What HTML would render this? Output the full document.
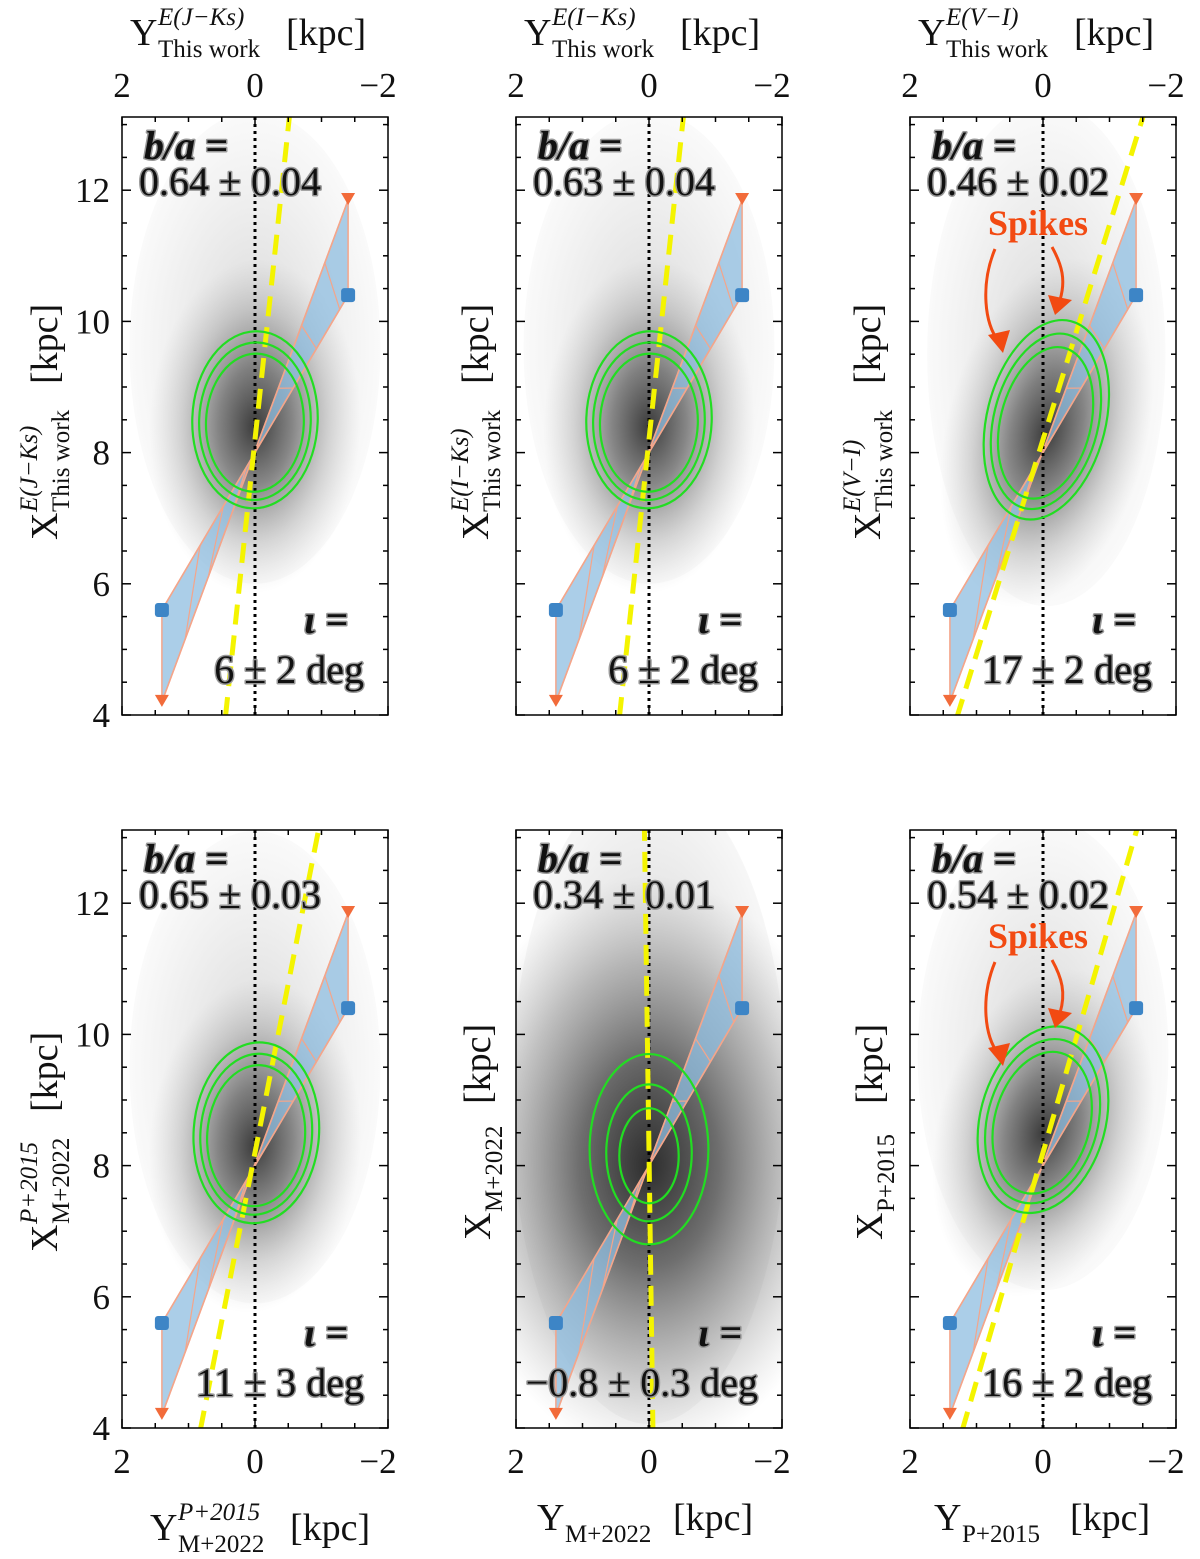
<!DOCTYPE html>
<html><head><meta charset="utf-8"><style>
html,body{margin:0;padding:0;background:#fff}
svg{display:block}
text{font-family:"Liberation Serif","DejaVu Serif",serif;fill:#111}
.tk{font-size:35px}
.ann{font-size:40px;stroke:#999;stroke-width:3px;paint-order:stroke;stroke-linejoin:round}
</style></head><body>
<svg id="fig" width="1200" height="1559" viewBox="0 0 1200 1559" xmlns="http://www.w3.org/2000/svg">
<defs id="defs"></defs>
</svg>
<script>
// ---- data ----
const panelIds = ["jks","iks","vi","mp","m22","p15"];
const ratioText = ["0.64 \u00b1 0.04","0.63 \u00b1 0.04","0.46 \u00b1 0.02","0.65 \u00b1 0.03","0.34 \u00b1 0.01","0.54 \u00b1 0.02"];
const iotaText = ["6 \u00b1 2 deg","6 \u00b1 2 deg","17 \u00b1 2 deg","11 \u00b1 3 deg","\u22120.8 \u00b1 0.3 deg","16 \u00b1 2 deg"];
const iotaDeg = [6,6,17,11,-0.8,16];
const cloudY = [0.0,0.0,-0.05,0.0,0.0,0.0];
const cloudX = [8.4,8.4,8.3,8.3,8.0,8.5];
const cloudSY = [1.0,1.0,0.95,1.0,1.9,1.0];
const cloudSX = [1.5,1.5,1.6,1.5,2.6,1.5];
const contY = [0.0,0.0,-0.05,-0.02,0.0,0.0];
const contX = [8.5,8.5,8.5,8.5,8.25,8.7];
const contA = [[0.95,1.35],[0.95,1.35],[0.9,1.55],[0.95,1.38],[0.9,1.45],[0.95,1.45]];
const contScale = [[1,0.89,0.78],[1,0.89,0.78],[1,0.88,0.76],[1,0.89,0.78],[1,0.72,0.5],[1,0.88,0.76]];
const contTilt = [2,2,14,4,0,15];
const bandYL = 1.4, bandYR = -1.4;
const bandTriL = 4.2, bandSqL = 5.6, bandSqR = 10.4, bandTriR = 11.85;
const xTicks = [2,0,-2];
const yTicks = [4,6,8,10,12];

const NS="http://www.w3.org/2000/svg";
const svg=document.getElementById('fig');
const defs=document.getElementById('defs');
function el(tag,attrs,parent){const e=document.createElementNS(NS,tag);for(const k in attrs)e.setAttribute(k,attrs[k]);(parent||svg).appendChild(e);return e;}

const panelX0=[122,516,910,122,516,910];
const panelYB=[715,715,715,1428,1428,1428];
const W=266,H=598;

panelIds.forEach((id,i)=>{
  const x0=panelX0[i], yb=panelYB[i], yt=yb-H;
  const px=Y=>x0+(2-Y)/4*W;
  const py=X=>yb-(X-4)*65.6;
  const g=el('g',{});
  
  
  const cp=el('clipPath',{id:'cp'+i},defs);
  el('rect',{x:x0,y:yt,width:W,height:H},cp);
  const inner=el('g',{'clip-path':'url(#cp'+i+')'},g);
  const rg=el('radialGradient',{id:'rg'+i},defs);
  const dense = i===4;
  el('stop',{offset:'0','stop-color':'#111','stop-opacity':dense?0.85:0.8},rg);
  el('stop',{offset:'0.35','stop-color':'#222','stop-opacity':dense?0.6:0.5},rg);
  el('stop',{offset:'0.7','stop-color':'#555','stop-opacity':dense?0.3:0.2},rg);
  el('stop',{offset:'1','stop-color':'#888','stop-opacity':0},rg);
  const rh=el('radialGradient',{id:'rh'+i},defs);
  el('stop',{offset:'0','stop-color':'#777','stop-opacity':dense?0.45:0.3},rh);
  el('stop',{offset:'1','stop-color':'#999','stop-opacity':dense?0.08:0.05},rh);
  const halo=el('ellipse',{cx:px(cloudY[i]),cy:py(cloudX[i]+ (dense?1:1.2)),rx:cloudSY[i]*66*(dense?1.1:1.9),ry:cloudSX[i]*65.6*(dense?1.9:2.4),fill:'url(#rh'+i+')'},inner);
  
  
  const cl=el('ellipse',{cx:px(cloudY[i]),cy:py(cloudX[i]),rx:cloudSY[i]*66*1.6,ry:cloudSX[i]*65.6*1.7,fill:'url(#rg'+i+')',transform:`rotate(${contTilt[i]} ${px(cloudY[i])} ${py(cloudX[i])})`},inner);
  
  
  const pA=[px(bandYL),py(bandTriL)],pB=[px(bandYR),py(bandTriR)],pC=[px(bandYR),py(bandSqR)],pD=[px(bandYL),py(bandSqL)];
  const band=el('polygon',{points:[pA,pD,pC,pB].map(p=>p.join(',')).join(' '),fill:'#8fbde0','fill-opacity':0.75,stroke:'#f4a58a','stroke-width':1.5},inner);
  
  
  for(let k=1;k<8;k++){
    const t=k/8;
    const a=[pA[0]+(pB[0]-pA[0])*t,pA[1]+(pB[1]-pA[1])*t];
    const b=[pD[0]+(pC[0]-pD[0])*Math.min(1,t+0.08),pD[1]+(pC[1]-pD[1])*Math.min(1,t+0.08)];
    const h=el('line',{x1:a[0],y1:a[1],x2:b[0],y2:b[1],stroke:'#f4a58a','stroke-width':1.2},inner);
    
    
  }
  el('line',{x1:pA[0],y1:pA[1],x2:pB[0],y2:pB[1],stroke:'#f4a58a','stroke-width':1.5},inner);
  el('line',{x1:pD[0],y1:pD[1],x2:pC[0],y2:pC[1],stroke:'#f4a58a','stroke-width':1.5},inner);
  [pA,pB].forEach(p=>{const t=el('polygon',{points:`${p[0]-7},${p[1]-7} ${p[0]+7},${p[1]-7} ${p[0]},${p[1]+5}`,fill:'#f26b3a'},g);
    
    });
  [pC,pD].forEach(p=>{const s=el('rect',{x:p[0]-7,y:p[1]-7,width:14,height:14,rx:3,fill:'#3d85c6'},g);
    
    });
  const vd=el('line',{x1:px(0),y1:yt,x2:px(0),y2:yb,stroke:'#000','stroke-width':3,'stroke-dasharray':'3 4'},inner);
  
  
  const tn=Math.tan(iotaDeg[i]*Math.PI/180);
  const yl=el('line',{x1:px(tn*(8.2-3.5)),y1:py(3.5),x2:px(-tn*(13.5-8.2)),y2:py(13.5),stroke:'#f4f400','stroke-width':5,'stroke-dasharray':'20 11'},inner);
  
  
  contScale[i].forEach(s=>{
    const c=el('ellipse',{cx:px(contY[i]),cy:py(contX[i]-(1-s)*0.2),rx:contA[i][0]*66*s,ry:contA[i][1]*65.6*s,fill:'none',stroke:'#22dd22','stroke-width':2.2,transform:`rotate(${contTilt[i]} ${px(contY[i])} ${py(contX[i])})`},inner);
    
    
  });
  const fr=el('rect',{x:x0,y:yt,width:W,height:H,fill:'none',stroke:'#000','stroke-width':1.5},g);
  
  
  for(let v=-2;v<=2.001;v+=0.5){const x=px(v);const L=(Math.abs(v%2)<0.01)?9:5;
    el('line',{x1:x,y1:yb,x2:x,y2:yb-L,stroke:'#000','stroke-width':1.5},g);
    el('line',{x1:x,y1:yt,x2:x,y2:yt+L,stroke:'#000','stroke-width':1.5},g);}
  for(let v=4;v<=13.01;v+=0.5){const y=py(v);const L=(Math.abs(v%2)<0.01)?9:5;
    el('line',{x1:x0,y1:y,x2:x0+L,y2:y,stroke:'#000','stroke-width':1.5},g);
    el('line',{x1:x0+W,y1:y,x2:x0+W-L,y2:y,stroke:'#000','stroke-width':1.5},g);}
  const tly = i<3 ? yt-20 : yb+45;
  xTicks.forEach(v=>{const t=el('text',{x:px(v)+(v<0?-10:0),y:tly,'text-anchor':'middle',class:'tk'},g);t.textContent=v<0?'\u2212'+(-v):String(v);
    
    });
  if(i%3===0){yTicks.forEach(v=>{const t=el('text',{x:x0-12,y:py(v)+12,'text-anchor':'end',class:'tk'},g);t.textContent=String(v);
    
    });}
  const t1=el('text',{x:x0+22,y:yt+42,class:'ann','font-style':'italic','font-weight':'bold'},g);t1.textContent='b/a =';
  
  
  const t2=el('text',{x:x0+17,y:yt+78,class:'ann'},g);t2.textContent=ratioText[i];
  
  
  const t3=el('text',{x:x0+226,y:yb-82,'text-anchor':'end',class:'ann','font-style':'italic','font-weight':'bold'},g);t3.textContent='\u03b9 =';
  
  
  const t4=el('text',{x:x0+W-24,y:yb-32,'text-anchor':'end',class:'ann'},g);t4.textContent=iotaText[i];
  
  
  if(i===2||i===5){
    const sp=el('text',{x:x0+78,y:yt+118,fill:'#f24a12',style:'fill:#f24a12;font-size:36px;font-weight:bold'},g);sp.textContent='Spikes';
    
    
    const ys=yt+128;
    const a1=el('path',{d:`M${x0+85},${ys+4} C${x0+70},${ys+40} ${x0+75},${ys+80} ${x0+88},${ys+95}`,fill:'none',stroke:'#f24a12','stroke-width':3},g);
    
    
    el('polygon',{points:`${x0+78},${ys+90} ${x0+100},${ys+85} ${x0+93},${ys+108}`,fill:'#f24a12'},g);
    const a2=el('path',{d:`M${x0+142},${ys+2} C${x0+152},${ys+20} ${x0+156},${ys+35} ${x0+150},${ys+55}`,fill:'none',stroke:'#f24a12','stroke-width':3},g);
    
    
    el('polygon',{points:`${x0+138},${ys+50} ${x0+162},${ys+55} ${x0+145},${ys+70}`,fill:'#f24a12'},g);
  }
});

function axisLabel(name,x,y,rot,main,sup,sub,off){
  const g=el('g',{transform:`translate(${x},${y}) rotate(${rot})`});
  
  
  const a=el('text',{x:0,y:0,style:'font-size:38px'},g);a.textContent=main;
  if(sup){const s=el('text',{x:28,y:-20,style:'font-size:25px;font-style:italic'},g);s.textContent=sup;}
  if(sub){const s=el('text',{x:28,y:12,style:'font-size:25px'},g);s.textContent=sub;}
  const u=el('text',{x:off,y:0,style:'font-size:38px'},g);u.textContent='[kpc]';
}
axisLabel('top-x-label-1',130,45,0,'Y','E(J\u2212Ks)','This work',156);
axisLabel('top-x-label-2',524,45,0,'Y','E(I\u2212Ks)','This work',156);
axisLabel('top-x-label-3',918,45,0,'Y','E(V\u2212I)','This work',156);
axisLabel('y-label-1',57,540,-90,'X','E(J\u2212Ks)','This work',156);
axisLabel('y-label-2',488,540,-90,'X','E(I\u2212Ks)','This work',156);
axisLabel('y-label-3',880,540,-90,'X','E(V\u2212I)','This work',156);
axisLabel('y-label-4',57,1252,-90,'X','P+2015','M+2022',140);
axisLabel('y-label-5',490,1240,-90,'X',null,'M+2022',136);
axisLabel('y-label-6',882,1240,-90,'X',null,'P+2015',136);
axisLabel('bottom-x-label-4',150,1540,0,'Y','P+2015','M+2022',140);
axisLabel('bottom-x-label-5',537,1530,0,'Y',null,'M+2022',136);
axisLabel('bottom-x-label-6',934,1530,0,'Y',null,'P+2015',136);
</script>
</body></html>
